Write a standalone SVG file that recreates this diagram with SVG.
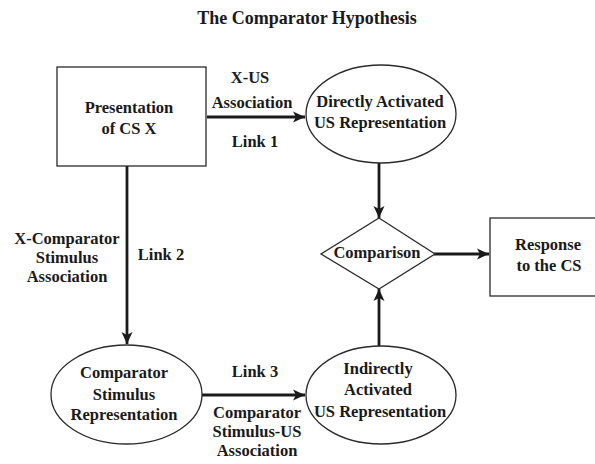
<svg xmlns="http://www.w3.org/2000/svg" width="595" height="464" viewBox="0 0 595 464">
  <style>
    text { font-family: "Liberation Serif", "Times New Roman", serif; font-weight: bold; font-size: 16.5px; fill: #1a1a1a; text-anchor: middle; }
    .title { font-size: 18px; }
    .shape { fill: #ffffff; stroke: #2a2a2a; stroke-width: 1.3; }
    .link { stroke: #1a1a1a; stroke-width: 2.8; fill: none; marker-end: url(#head); }
  </style>
  <defs>
    <marker id="head" markerUnits="userSpaceOnUse" markerWidth="14" markerHeight="14" viewBox="0 0 14 14" refX="13" refY="7" orient="auto">
      <path d="M1,1.5 L13,7 L1,12.5 L4,7 Z" fill="#1a1a1a"/>
    </marker>
  </defs>
  <rect width="595" height="464" fill="#ffffff"/>

  <text class="title" x="307" y="24">The Comparator Hypothesis</text>

  <!-- connectors and their labels -->
  <g id="connectors">
    <line class="link" x1="207" y1="117" x2="305" y2="117"/>
    <line class="link" x1="379" y1="163" x2="379" y2="218"/>
    <line class="link" x1="434" y1="254" x2="489" y2="254"/>
    <line class="link" x1="127" y1="166" x2="127" y2="344"/>
    <line class="link" x1="202" y1="395" x2="305" y2="395"/>
    <line class="link" x1="379" y1="346" x2="379" y2="289"/>
    <text x="250" y="83">X-US</text>
    <text x="252" y="108">Association</text>
    <text x="255" y="147">Link 1</text>
    <text x="67" y="244">X-Comparator</text>
    <text x="67" y="263">Stimulus</text>
    <text x="67" y="282">Association</text>
    <text x="161" y="260">Link 2</text>
    <text x="255" y="377">Link 3</text>
    <text x="257" y="418">Comparator</text>
    <text x="257" y="437">Stimulus-US</text>
    <text x="257" y="456">Association</text>
  </g>

  <g id="presentation">
    <rect class="shape" x="57" y="67" width="149" height="99"/>
    <text x="129" y="113">Presentation</text>
    <text x="129" y="134">of CS X</text>
  </g>

  <g id="direct-us">
    <ellipse class="shape" cx="381" cy="114" rx="75" ry="49"/>
    <text x="380" y="107">Directly Activated</text>
    <text x="380" y="128">US Representation</text>
  </g>

  <g id="comparison">
    <polygon class="shape" points="379,218 435,254 379,289 321,254"/>
    <text x="377" y="258">Comparison</text>
  </g>

  <g id="response">
    <rect class="shape" x="490" y="218" width="120" height="78"/>
    <text x="548" y="250">Response</text>
    <text x="549" y="271">to the CS</text>
  </g>

  <g id="comparator-stimulus">
    <ellipse class="shape" cx="126.5" cy="394.5" rx="75.5" ry="49.5"/>
    <text x="124" y="378">Comparator</text>
    <text x="124" y="400">Stimulus</text>
    <text x="124" y="420">Representation</text>
  </g>

  <g id="indirect-us">
    <ellipse class="shape" cx="381" cy="395" rx="75" ry="49"/>
    <text x="378" y="374">Indirectly</text>
    <text x="378" y="395">Activated</text>
    <text x="380" y="417">US Representation</text>
  </g>
</svg>
